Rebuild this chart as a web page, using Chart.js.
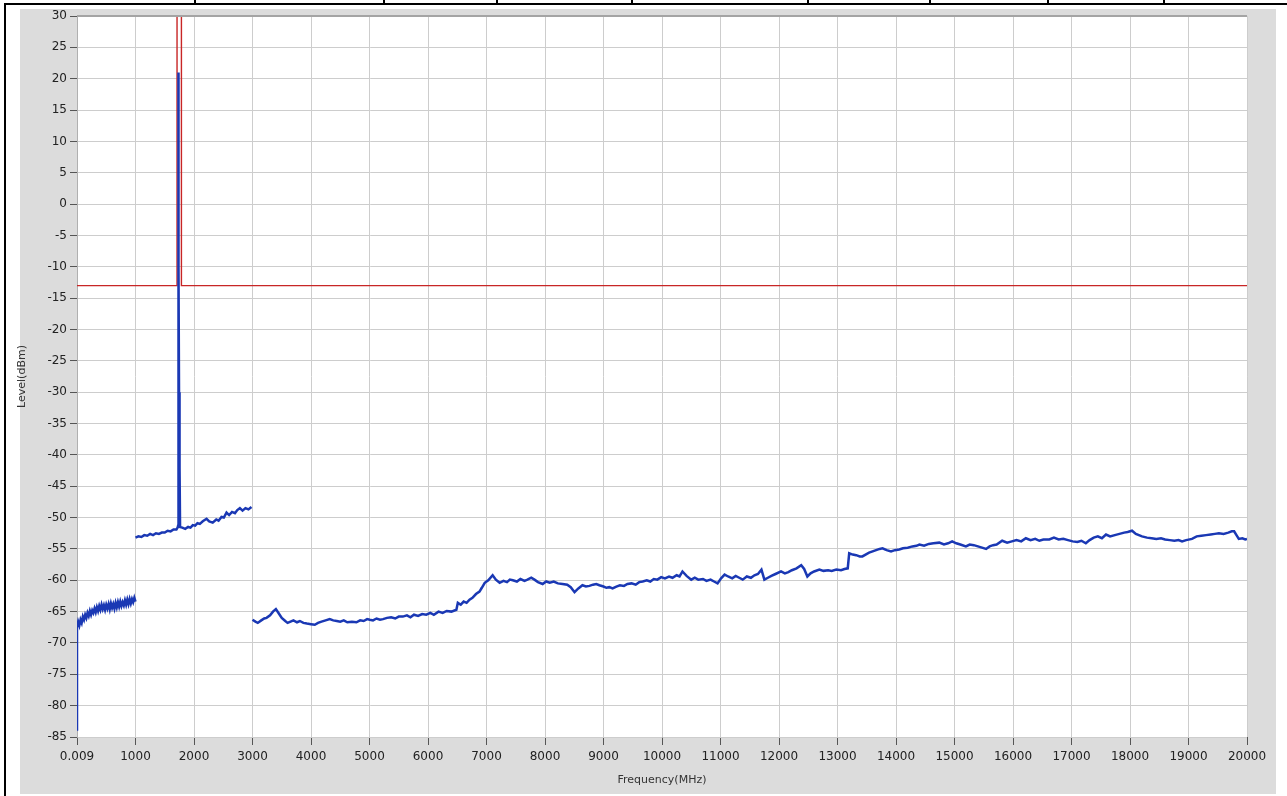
<!DOCTYPE html>
<html>
<head>
<meta charset="utf-8">
<script src="https://cdn.jsdelivr.net/npm/chart.js@4"></script>
<style>
  html, body { margin: 0; padding: 0; background: #fff; }
  #page { position: relative; width: 1287px; height: 796px; overflow: hidden; }
  #frame { position: absolute; left: 4px; top: 3px; width: 1300px; height: 800px;
           border-left: 2px solid #000; border-top: 2px solid #000; }
  .divider { position: absolute; top: 0; width: 2px; height: 4px; background: #000; }
  #panel { position: absolute; left: 20px; top: 9px; width: 1256px; height: 785px; background: #dcdcdc; }
  #chart { position: absolute; left: 0; top: 0; }
</style>
</head>
<body>
<div id="page">
  <div id="frame"></div>
  <div id="panel"></div>
  <canvas id="chart" width="1287" height="796"></canvas>
</div>
<script>
// frequency in MHz, level in dBm
const traceLow = [
    [0.009, -84], [0.009, -74], [0.009, -80], [0.009, -74], [0.009, -67.5],
    [20, -66.6], [40, -67.2], [60, -66.3], [80, -66.8], [100, -65.8], [120, -66.3],
    [140, -65.5], [160, -66.0], [180, -65.2], [200, -65.7], [220, -64.9], [240, -65.5],
    [260, -64.8], [280, -65.2], [300, -64.5], [320, -65.1], [340, -64.3], [360, -64.9],
    [380, -64.1], [400, -64.7], [420, -63.9], [440, -64.6], [460, -64.0], [480, -64.7],
    [500, -63.9], [520, -64.5], [540, -63.8], [560, -64.6], [580, -63.7], [600, -64.4],
    [620, -63.8], [640, -64.5], [660, -63.6], [680, -64.3], [700, -63.5], [720, -64.2],
    [740, -63.4], [760, -64.1], [780, -63.5], [800, -64.0], [820, -63.2], [840, -63.9],
    [860, -63.1], [880, -63.8], [900, -63.0], [920, -63.7], [940, -63.0], [960, -63.5],
    [980, -62.8], [1000, -63.4]
];
const traceMid = [
    [1000, -53.2], [1050, -53.0], [1100, -53.1], [1150, -52.8], [1200, -52.9], [1250, -52.6],
    [1300, -52.8], [1350, -52.5], [1400, -52.6], [1450, -52.4], [1500, -52.4], [1550, -52.1],
    [1600, -52.2], [1650, -51.9], [1700, -51.9], [1720, -51.6], [1728, -51.3], [1731, -40],
    [1735, 21], [1739, -10], [1744, -30], [1750, -39], [1756, -42], [1762, -51.5],
    [1800, -51.6], [1850, -51.8], [1900, -51.5], [1940, -51.6], [1980, -51.2], [2020, -51.3],
    [2060, -50.9], [2100, -51.0], [2150, -50.6], [2215, -50.2], [2260, -50.6], [2320, -50.8],
    [2380, -50.3], [2420, -50.5], [2470, -49.9], [2510, -50.0], [2556, -49.2], [2600, -49.6],
    [2650, -49.1], [2700, -49.3], [2740, -48.8], [2784, -48.5], [2830, -48.9], [2880, -48.5],
    [2930, -48.7], [2983, -48.3]
];
const traceHigh = [
    [3000, -66.3], [3050, -66.6], [3090, -66.8], [3150, -66.4], [3200, -66.1], [3240, -66.0],
    [3300, -65.6], [3350, -65.0], [3400, -64.6], [3450, -65.3], [3500, -66.0], [3560, -66.5],
    [3600, -66.8], [3650, -66.6], [3700, -66.4], [3760, -66.7], [3810, -66.5], [3870, -66.8],
    [3930, -66.9], [4000, -67.0], [4065, -67.1], [4120, -66.8], [4180, -66.6], [4250, -66.4],
    [4320, -66.2], [4380, -66.4], [4440, -66.5], [4500, -66.6], [4560, -66.4], [4620, -66.7],
    [4700, -66.6], [4776, -66.7], [4840, -66.4], [4900, -66.5], [4960, -66.2], [5004, -66.3],
    [5060, -66.4], [5120, -66.1], [5180, -66.3], [5230, -66.2], [5300, -66.0], [5370, -65.9],
    [5440, -66.1], [5500, -65.8], [5570, -65.8], [5640, -65.6], [5700, -65.9], [5760, -65.5],
    [5830, -65.7], [5900, -65.4], [5970, -65.5], [6040, -65.2], [6100, -65.5], [6180, -65.0],
    [6250, -65.2], [6320, -64.9], [6400, -65.0], [6485, -64.7], [6510, -63.6], [6560, -63.9],
    [6610, -63.4], [6660, -63.6], [6710, -63.1], [6760, -62.8], [6820, -62.2], [6880, -61.8],
    [6920, -61.2], [6970, -60.4], [7030, -60.0], [7105, -59.2], [7160, -59.9], [7225, -60.4],
    [7290, -60.1], [7350, -60.3], [7400, -59.9], [7450, -60.0], [7520, -60.2], [7580, -59.8],
    [7650, -60.1], [7700, -59.9], [7765, -59.6], [7820, -59.9], [7880, -60.3], [7960, -60.6],
    [8020, -60.2], [8080, -60.4], [8150, -60.2], [8220, -60.5], [8300, -60.6], [8380, -60.7],
    [8440, -61.1], [8505, -61.9], [8570, -61.3], [8640, -60.8], [8700, -61.0], [8760, -60.9],
    [8820, -60.7], [8875, -60.6], [8930, -60.8], [9000, -61.0], [9050, -61.2], [9100, -61.1],
    [9155, -61.3], [9220, -61.0], [9280, -60.8], [9350, -60.9], [9410, -60.6], [9480, -60.5],
    [9550, -60.7], [9610, -60.3], [9670, -60.2], [9740, -60.0], [9800, -60.2], [9860, -59.8],
    [9920, -59.9], [9986, -59.5], [10050, -59.7], [10120, -59.4], [10180, -59.6], [10250, -59.2],
    [10300, -59.4], [10350, -58.6], [10420, -59.3], [10500, -59.9], [10560, -59.6], [10620, -59.9],
    [10700, -59.8], [10760, -60.1], [10830, -59.9], [10890, -60.2], [10950, -60.5], [11010, -59.7],
    [11070, -59.1], [11130, -59.4], [11200, -59.7], [11260, -59.3], [11320, -59.6], [11380, -59.9],
    [11450, -59.4], [11520, -59.6], [11580, -59.2], [11640, -59.0], [11700, -58.3], [11750, -59.9],
    [11810, -59.6], [11870, -59.3], [11940, -59.0], [12035, -58.6], [12100, -58.9], [12160, -58.7],
    [12220, -58.4], [12300, -58.1], [12380, -57.6], [12430, -58.2], [12485, -59.4], [12540, -58.9],
    [12600, -58.6], [12690, -58.3], [12760, -58.5], [12840, -58.4], [12900, -58.5], [12980, -58.3],
    [13060, -58.4], [13120, -58.2], [13175, -58.1], [13200, -55.7], [13260, -55.9], [13320, -56.0],
    [13380, -56.2], [13425, -56.2], [13480, -55.9], [13540, -55.6], [13600, -55.4], [13660, -55.2],
    [13720, -55.0], [13770, -54.9], [13840, -55.2], [13915, -55.4], [13980, -55.2], [14055, -55.1],
    [14120, -54.9], [14200, -54.8], [14280, -54.6], [14350, -54.5], [14400, -54.3], [14480, -54.5],
    [14560, -54.2], [14640, -54.1], [14740, -54.0], [14820, -54.3], [14890, -54.1], [14960, -53.8],
    [15030, -54.1], [15100, -54.3], [15195, -54.6], [15260, -54.3], [15330, -54.4], [15400, -54.6],
    [15470, -54.8], [15540, -55.0], [15600, -54.6], [15660, -54.4], [15720, -54.3], [15815, -53.7],
    [15900, -54.0], [15980, -53.8], [16060, -53.6], [16140, -53.8], [16220, -53.3], [16300, -53.6],
    [16380, -53.4], [16450, -53.7], [16520, -53.5], [16620, -53.5], [16700, -53.2], [16780, -53.5],
    [16860, -53.4], [16940, -53.6], [17020, -53.8], [17100, -53.9], [17170, -53.7], [17245, -54.1],
    [17310, -53.6], [17380, -53.2], [17450, -53.0], [17520, -53.3], [17590, -52.7], [17660, -53.0],
    [17740, -52.8], [17820, -52.6], [17900, -52.4], [17960, -52.3], [18035, -52.1], [18100, -52.6],
    [18205, -53.0], [18290, -53.2], [18370, -53.3], [18450, -53.4], [18530, -53.3], [18600, -53.5],
    [18680, -53.6], [18760, -53.7], [18830, -53.6], [18890, -53.8], [18960, -53.6], [19060, -53.4],
    [19140, -53.0], [19220, -52.9], [19300, -52.8], [19380, -52.7], [19450, -52.6], [19520, -52.5],
    [19600, -52.6], [19680, -52.4], [19740, -52.2], [19780, -52.2], [19820, -52.8], [19860, -53.4],
    [19920, -53.3], [19970, -53.5], [20000, -53.4]
];
// limit line with the in-band notch
const limitFreq = [0.009, 1710, 1710, 1785, 1785, 20000];
const limitLevel = [-13, -13, 36, 36, -13, -13];

const xTickLabels = ['0.009', '1000', '2000', '3000', '4000', '5000', '6000', '7000', '8000', '9000',
    '10000', '11000', '12000', '13000', '14000', '15000', '16000', '17000', '18000', '19000', '20000'];
const dividerX = [195, 384, 497, 632, 808, 930, 1048, 1164];

dividerX.forEach(function (x) {
    const d = document.createElement('div');
    d.className = 'divider';
    d.style.left = (x - 1) + 'px';
    document.getElementById('page').appendChild(d);
});

function toPoints(seg) {
    return seg.map(function (p) { return { x: p[0], y: p[1] }; });
}
const traceData = toPoints(traceLow)
    .concat([{ x: 1000, y: null }], toPoints(traceMid))
    .concat([{ x: 3000, y: null }], toPoints(traceHigh));
const limitData = limitFreq.map(function (f, i) { return { x: f, y: limitLevel[i] }; });

const plotBackground = {
    id: 'plotBackground',
    beforeDraw(chart) {
        const { ctx, chartArea: a } = chart;
        ctx.save();
        ctx.fillStyle = '#ffffff';
        ctx.fillRect(a.left, a.top, a.right - a.left, a.bottom - a.top);
        ctx.restore();
    },
    afterDraw(chart) {
        const { ctx, chartArea: a } = chart;
        ctx.save();
        ctx.strokeStyle = '#a4a4a4';
        ctx.lineWidth = 2;
        ctx.beginPath();
        ctx.moveTo(a.left, a.top);
        ctx.lineTo(a.right, a.top);
        ctx.stroke();
        ctx.restore();
    }
};

const font = "'DejaVu Sans', sans-serif";

new Chart(document.getElementById('chart'), {
    type: 'line',
    data: {
        datasets: [{
            label: 'Level',
            data: traceData,
            borderColor: '#1a38b4',
            borderWidth: 2.5,
            pointRadius: 0,
            spanGaps: false,
            tension: 0
        }, {
            label: 'Limit',
            data: limitData,
            borderColor: '#c82626',
            borderWidth: 1.4,
            pointRadius: 0,
            tension: 0
        }]
    },
    options: {
        responsive: false,
        animation: false,
        events: [],
        layout: { padding: { left: 20, top: 16, right: 40, bottom: 2 } },
        plugins: {
            legend: { display: false },
            tooltip: { enabled: false }
        },
        scales: {
            x: {
                type: 'linear',
                min: 0,
                max: 20000,
                afterFit(scale) { scale.height = 57; },
                ticks: {
                    stepSize: 1000,
                    autoSkip: false,
                    maxRotation: 0,
                    padding: 5,
                    color: '#222',
                    font: { family: font, size: 12 },
                    callback: function (v, i) { return xTickLabels[i]; }
                },
                grid: { color: '#cdcdcd', lineWidth: 1, tickLength: 8, tickColor: '#555' },
                border: { display: false },
                title: {
                    display: true,
                    text: 'Frequency(MHz)',
                    color: '#333',
                    font: { family: font, size: 11 },
                    padding: { top: 0, bottom: 7 }
                }
            },
            y: {
                min: -85,
                max: 30,
                afterFit(scale) { scale.width = 57; },
                ticks: {
                    stepSize: 5,
                    padding: 3,
                    color: '#222',
                    font: { family: font, size: 12 }
                },
                grid: { color: '#cdcdcd', lineWidth: 1, tickLength: 7, tickColor: '#555' },
                border: { color: '#b0b0b0' },
                title: {
                    display: true,
                    text: 'Level(dBm)',
                    color: '#333',
                    font: { family: font, size: 11 },
                    padding: { top: -4, bottom: 0 }
                }
            }
        }
    },
    plugins: [plotBackground]
});
</script>
</body>
</html>
